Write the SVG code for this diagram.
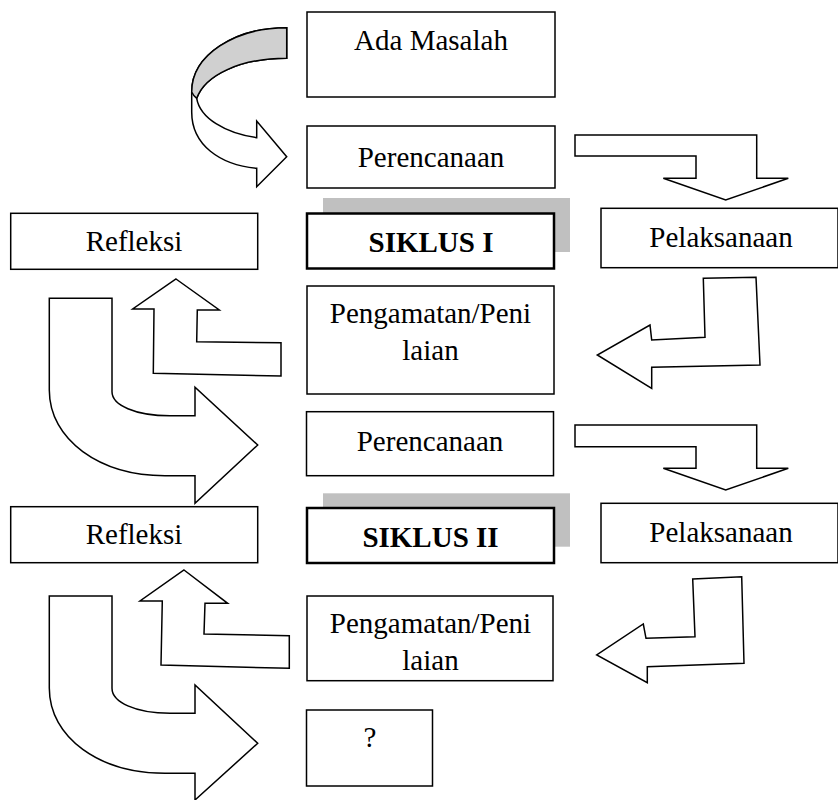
<svg xmlns="http://www.w3.org/2000/svg" width="838" height="800" viewBox="0 0 838 800">
<style>
.box{fill:#fff;stroke:#000;stroke-width:1.5}
.bold{fill:#fff;stroke:#000;stroke-width:2.5}
.sh{fill:#c0c0c0;stroke:none}
.arr{fill:#fff;stroke:#000;stroke-width:1.5;stroke-linejoin:miter}
.gr{fill:#d0d0d0;stroke:#000;stroke-width:1.5}
text{font-family:"Liberation Serif","Times New Roman",serif;font-size:29px;fill:#000;text-anchor:middle}
.b{font-weight:bold}
</style>
<rect width="838" height="800" fill="#fff"/>
<g id="connectors">
  <!-- curved arrow: Ada Masalah -> Perencanaan -->
  <path class="arr" d="M286.7,27.7 C235,27.7 191.7,55 191.7,92 L191.7,112 C191.7,145 220,165 256.7,168.3 L256.7,186.7 L286.7,156.7 L256.7,121 L256.7,137.7 C225,133 200,118 196.7,98.3 C205,75 240,58.3 286.7,58.3 Z"/>
  <path class="gr" d="M286.7,27.7 C235,27.7 191.7,55 191.7,92 C193,95 195,97 196.7,98.3 C205,75 240,58.3 286.7,58.3 Z"/>
  <!-- Perencanaan -> Pelaksanaan (I) -->
  <polygon class="arr" points="575,135 756.7,135 756.7,178.3 788.3,178.3 725.7,200 663.3,178.3 696,178.3 696,156 575,156"/>
  <!-- Pelaksanaan -> Pengamatan (I) -->
  <polygon class="arr" points="703.3,278.3 756,277.3 760,365 651.7,367.3 651.7,388.3 597.3,355 650,325 651.7,340 705,337.3"/>
  <!-- Pengamatan -> Refleksi (I) -->
  <polygon class="arr" points="176,279 219.3,310 197.3,310 196.7,341.7 281,342.7 281,376 153.3,373.3 154,309 132.7,309"/>
  <!-- Refleksi -> Perencanaan (II) -->
  <path class="arr" d="M49.3,298.3 L112,298.3 L112,391.7 C112,405 135,415.7 170,415.7 L195,415.7 L195,387.3 L257.7,445 L195,503.3 L195,475.7 L165,475.7 C100,475.7 49.3,440 49.3,390 Z"/>
  <!-- Perencanaan -> Pelaksanaan (II) -->
  <polygon class="arr" points="575,425 756.7,425 756.7,468.3 788.3,468.3 725.7,490 663.3,468.3 696,468.3 696,446.7 575,446.7"/>
  <!-- Pelaksanaan -> Pengamatan (II) -->
  <polygon class="arr" points="692.7,579 741.7,576.7 744,663.3 647.3,666.7 647.3,682.7 596.7,655 643.3,624 646,638.3 695,636.7"/>
  <!-- Pengamatan -> Refleksi (II) -->
  <polygon class="arr" points="184,570 227.7,603.3 205,603.3 204,634 289.3,635.7 289.3,668.3 161,665 162.3,601 140,601"/>
  <!-- Refleksi -> ? -->
  <path class="arr" d="M49.3,596 L112,596 L112,688.3 C112,702 135,713.3 170,713.3 L195,713.3 L195,685 L257.7,743.3 L195,800 L195,773.3 L165,773.3 C100,773.3 49.3,738 49.3,688 Z"/>
</g>
<g id="ada-masalah">
  <rect class="box" x="307" y="12" width="248" height="85"/>
  <text x="431" y="50">Ada Masalah</text>
</g>
<g id="perencanaan-1">
  <rect class="box" x="307" y="126" width="248" height="62"/>
  <text x="431" y="167">Perencanaan</text>
</g>
<g id="siklus-1">
  <rect class="sh" x="323" y="198" width="247" height="54"/>
  <rect class="bold" x="307" y="213.5" width="247" height="55"/>
  <text class="b" x="431" y="251.5">SIKLUS I</text>
</g>
<g id="refleksi-1">
  <rect class="box" x="10.7" y="213.3" width="247" height="56"/>
  <text x="134" y="251">Refleksi</text>
</g>
<g id="pelaksanaan-1">
  <rect class="box" x="601" y="208.3" width="237" height="59.4"/>
  <text x="721" y="246.7">Pelaksanaan</text>
</g>
<g id="pengamatan-1">
  <rect class="box" x="307" y="286" width="247" height="108"/>
  <text x="430.5" y="323.3">Pengamatan/Peni</text>
  <text x="430.5" y="360">laian</text>
</g>
<g id="perencanaan-2">
  <rect class="box" x="306.5" y="411.7" width="247" height="64"/>
  <text x="430" y="450.7">Perencanaan</text>
</g>
<g id="siklus-2">
  <rect class="sh" x="323" y="493.3" width="247" height="53.4"/>
  <rect class="bold" x="307" y="508" width="247" height="55"/>
  <text class="b" x="430.5" y="546.7">SIKLUS II</text>
</g>
<g id="refleksi-2">
  <rect class="box" x="10.7" y="506.7" width="247" height="56"/>
  <text x="134" y="544">Refleksi</text>
</g>
<g id="pelaksanaan-2">
  <rect class="box" x="601" y="503.3" width="237" height="59.4"/>
  <text x="721" y="541.7">Pelaksanaan</text>
</g>
<g id="pengamatan-2">
  <rect class="box" x="307" y="596" width="246" height="84.7"/>
  <text x="430.5" y="633">Pengamatan/Peni</text>
  <text x="430.5" y="670">laian</text>
</g>
<g id="tanya">
  <rect class="box" x="306.5" y="710" width="126" height="76"/>
  <text x="370" y="747">?</text>
</g>
</svg>
